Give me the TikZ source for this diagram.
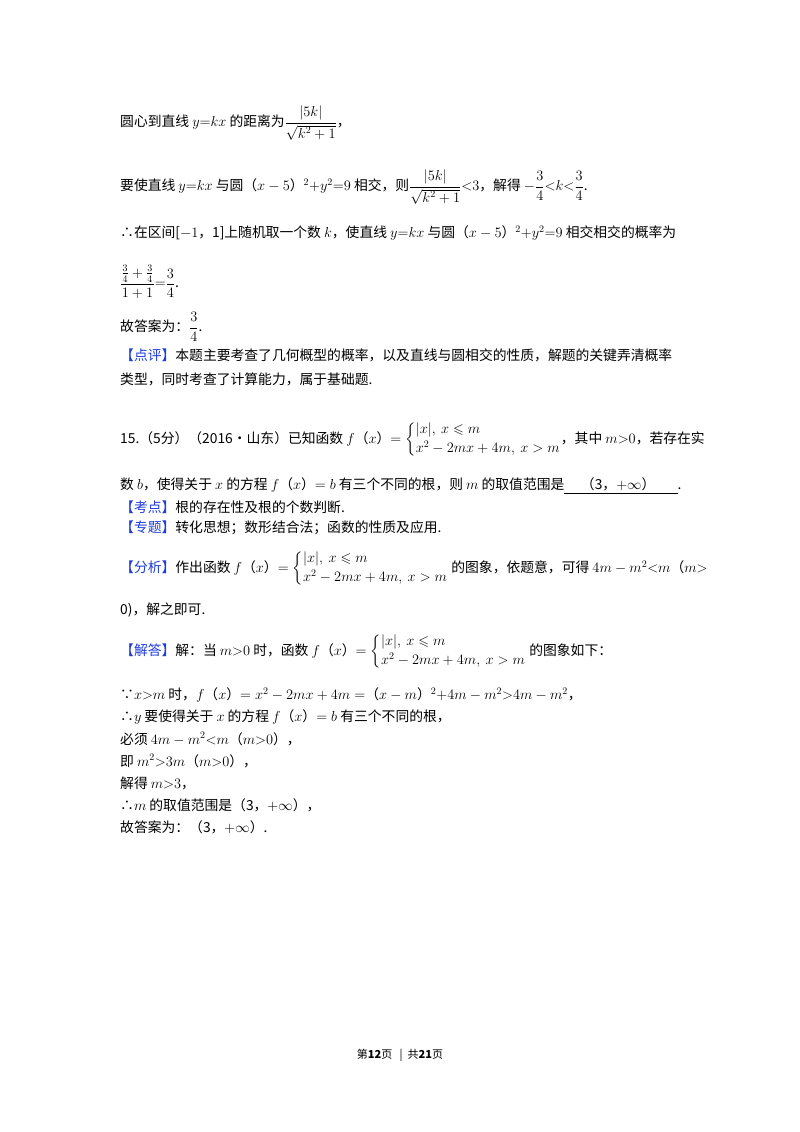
\documentclass[tikz,border=0pt]{standalone}
\usepackage{fontspec}
\setmainfont{Noto Sans CJK SC}
\usepackage{amsmath}
\definecolor{kb}{RGB}{30,60,220}
\newcommand{\tg}[1]{{\color{kb}【#1】}}
\newcommand{\pw}{\left\{\begin{array}{@{}l@{}}|x|,\ x\leqslant m\\[3pt] x^2-2mx+4m,\ x>m\end{array}\right.}
\usepackage{amssymb}
\begin{document}
\begin{tikzpicture}[x=1pt,y=-1pt,
  ln/.style={anchor=west,inner sep=0pt,font=\fontsize{13.8}{16}\selectfont}]
\useasboundingbox[fill=white] (0,0) rectangle (800,1132);
\node[ln] (l1) at (120,123) {圆心到直线 $y{=}kx$ 的距离为$\dfrac{|5k|}{\sqrt{k^2+1}}$，};
\node[ln] (l2) at (120,187) {要使直线 $y{=}kx$ 与圆（$x-5$）$^2{+}y^2{=}9$ 相交，则$\dfrac{|5k|}{\sqrt{k^2+1}}{<}3$，解得 $-\dfrac34{<}k{<}\dfrac34$.};
\node[ln] (l3) at (120,233) {∴在区间[$-1$，1]上随机取一个数 $k$，使直线 $y{=}kx$ 与圆（$x-5$）$^2{+}y^2{=}9$ 相交相交的概率为};
\node[ln] (l4) at (120,282) {$\dfrac{\frac34+\frac34}{1+1}{=}\dfrac34$.};
\node[ln] (l5) at (120,327) {故答案为：$\dfrac34$.};
\node[ln] (l6) at (120,355) {\tg{点评}本题主要考查了几何概型的概率，以及直线与圆相交的性质，解题的关键弄清概率};
\node[ln] (l7) at (120,379) {类型，同时考查了计算能力，属于基础题.};
\node[ln] (l8) at (120,440) {15.（5分）（2016•山东）已知函数 $f$（$x$）$=\pw$，其中 $m{>}0$，若存在实};
\node[ln] (l9) at (120,486) {数 $b$，使得关于 $x$ 的方程 $f$（$x$）$=b$ 有三个不同的根，则 $m$ 的取值范围是\underline{\hspace{1.2em}（3，$+\infty$）\hspace{1.6em}}.};
\node[ln] (l10) at (120,507) {\tg{考点}根的存在性及根的个数判断.};
\node[ln] (l11) at (120,528) {\tg{专题}转化思想；数形结合法；函数的性质及应用.};
\node[ln] (l12) at (120,569) {\tg{分析}作出函数 $f$（$x$）$=\pw$ 的图象，依题意，可得 $4m-m^2{<}m$（$m{>}$};
\node[ln] (l13) at (120,610) {0)，解之即可.};
\node[ln] (l14) at (120,652) {\tg{解答}解：当 $m{>}0$ 时，函数 $f$（$x$）$=\pw$ 的图象如下：};
\node[ln] (l15) at (120,695) {∵$x{>}m$ 时，$f$（$x$）$=x^2-2mx+4m=$（$x-m$）$^2{+}4m-m^2{>}4m-m^2$，};
\node[ln] (l16) at (120,717) {∴$y$ 要使得关于 $x$ 的方程 $f$（$x$）$=b$ 有三个不同的根，};
\node[ln] (l17) at (120,739) {必须 $4m-m^2{<}m$（$m{>}0$），};
\node[ln] (l18) at (120,761) {即 $m^2{>}3m$（$m{>}0$），};
\node[ln] (l19) at (120,783) {解得 $m{>}3$，};
\node[ln] (l20) at (120,805) {∴$m$ 的取值范围是（3，$+\infty$），};
\node[ln] (l21) at (120,827) {故答案为：（3，$+\infty$）.};
\node[ln,anchor=center,font=\fontsize{11}{13}\selectfont] (ft) at (400,1055) {第\textbf{12}页 \ \ |\ \ 共\textbf{21}页};
\end{tikzpicture}
\end{document}
